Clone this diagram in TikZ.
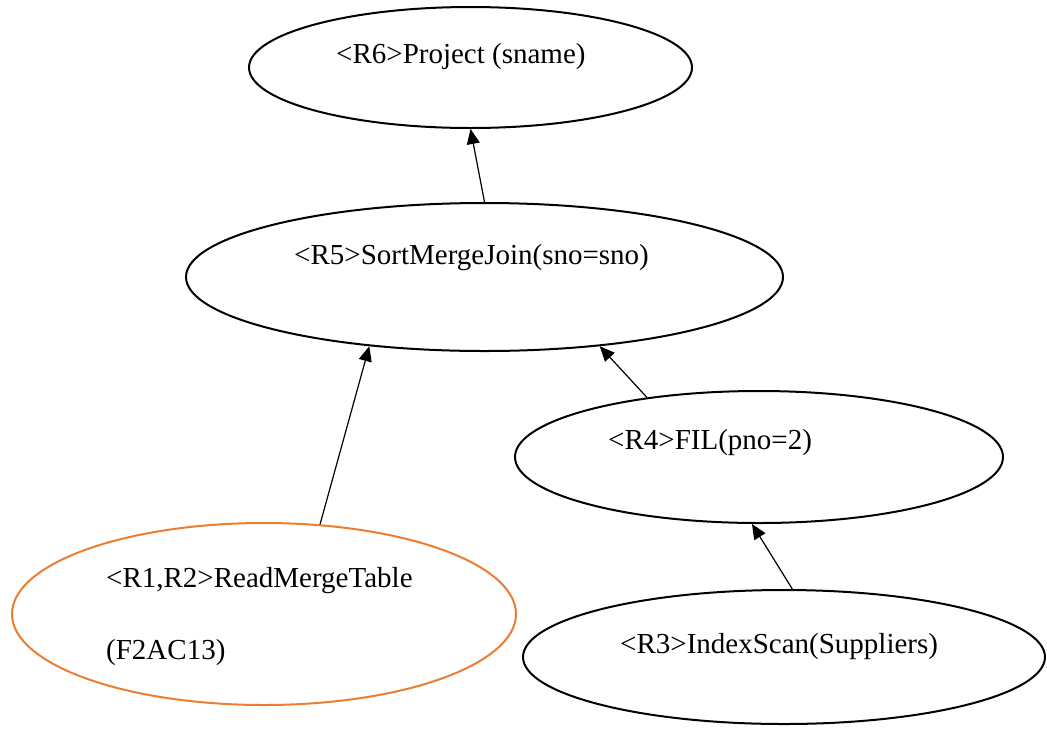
\documentclass[tikz,border=0pt]{standalone}
\usepackage{fontspec}
\setmainfont{Liberation Serif}
\usetikzlibrary{shapes.geometric,arrows.meta}
\definecolor{borange}{HTML}{ED7D31}
\tikzset{
  opnode/.style={ellipse, draw=black, line width=2pt, inner sep=0pt},
  oporange/.style={ellipse, draw=borange, line width=2pt, inner sep=0pt},
  optext/.style={anchor=base west, inner sep=0pt, font=\fontsize{29}{34}\selectfont},
  flow/.style={line width=1.2pt, -{Triangle[length=15pt,width=13pt]}}
}
\begin{document}
\begin{tikzpicture}[x=1pt,y=-1pt]
\useasboundingbox (0,0) rectangle (1047,729);
% ellipses
\node[opnode, minimum width=443pt, minimum height=121pt] (R6) at (470.5,67.5) {};
\node[opnode, minimum width=597pt, minimum height=148pt] (R5) at (484.5,277) {};
\node[opnode, minimum width=488pt, minimum height=132pt] (R4) at (759,457) {};
\node[oporange, minimum width=504pt, minimum height=182pt] (R1) at (264,614) {};
\node[opnode, minimum width=522pt, minimum height=134pt] (R3) at (784,657) {};
% texts
\node[optext] (t6) at (336,63) {<R6>Project (sname)};
\node[optext] (t5) at (294,264) {<R5>SortMergeJoin(sno=sno)};
\node[optext] (t4) at (608,449) {<R4>FIL(pno=2)};
\node[optext] (t1a) at (106,587) {<R1,R2>ReadMergeTable};
\node[optext] (t1b) at (106,659) {(F2AC13)};
\node[optext] (t3) at (620,653) {<R3>IndexScan(Suppliers)};
% connectors
\draw[flow] (R5.north) -- (R6.south);
\draw[flow] (R1.58.4) -- (R5.211.7);
\draw[flow] (R4.152.7) -- (R5.-31.6);
\draw[flow] (R3.83) -- (R4.-96);
\end{tikzpicture}
\end{document}
